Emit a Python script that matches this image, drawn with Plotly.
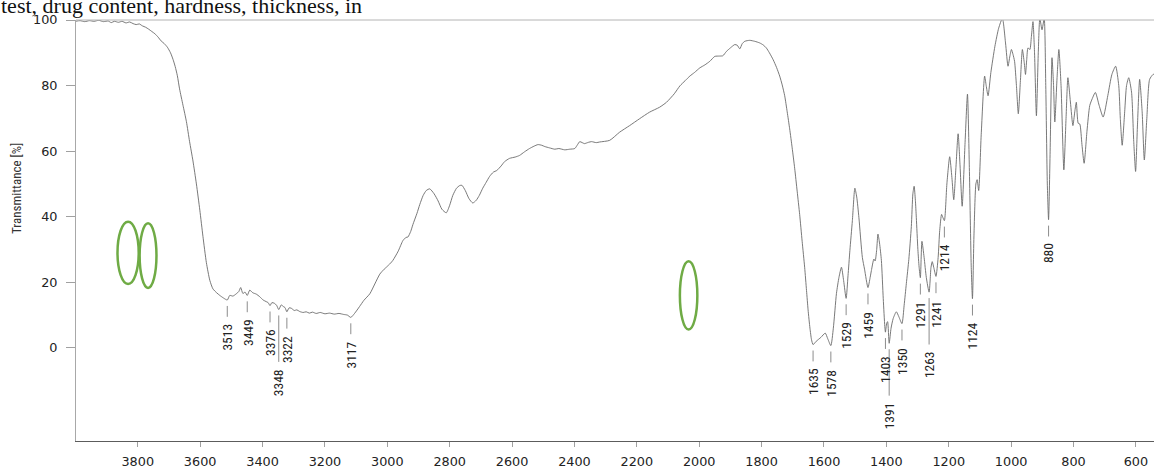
import numpy as np
import plotly.graph_objects as go

# FT-IR spectrum (wavenumber in cm-1, transmittance in %)
wavenumber = [
    4000, 3985, 3970, 3955, 3940, 3925, 3910, 3895, 3885, 3875, 3862, 3850, 3838, 3826,
    3815, 3805, 3795, 3785, 3775, 3765, 3755, 3745, 3735, 3725, 3715, 3705, 3695, 3687,
    3680, 3673, 3666, 3655, 3644, 3634, 3623, 3612, 3601, 3591, 3580, 3569, 3559, 3547,
    3537, 3525, 3513, 3505, 3495, 3484, 3476, 3470, 3463, 3456, 3449, 3441, 3431, 3420,
    3409, 3398, 3388, 3382, 3376, 3370, 3362, 3355, 3348, 3340, 3333, 3328, 3322, 3315,
    3308, 3298, 3290, 3281, 3270, 3260, 3250, 3240, 3228, 3215, 3200, 3185, 3170, 3155,
    3140, 3128, 3117, 3105, 3089, 3075, 3056, 3040, 3024, 3010, 3003, 2990, 2982, 2965,
    2950, 2940, 2934, 2925, 2918, 2905, 2896, 2885, 2875, 2864, 2850, 2837, 2825, 2811,
    2800, 2790, 2778, 2768, 2761, 2750, 2738, 2726, 2715, 2705, 2694, 2683, 2672, 2660,
    2649, 2635, 2624, 2608, 2590, 2576, 2560, 2544, 2530, 2517, 2505, 2495, 2480, 2463,
    2450, 2431, 2415, 2399, 2390, 2383, 2375, 2368, 2355, 2345, 2330, 2319, 2287, 2255,
    2223, 2191, 2159, 2127, 2105, 2080, 2062, 2045, 2030, 2015, 1998, 1982, 1966, 1950,
    1935, 1924, 1913, 1900, 1886, 1878, 1870, 1862, 1854, 1838, 1822, 1806, 1795, 1785,
    1775, 1763, 1752, 1742, 1734, 1726, 1718, 1710, 1702, 1694, 1686, 1678, 1670, 1662,
    1656, 1651, 1645, 1640, 1635, 1625, 1610, 1596, 1588, 1578, 1570, 1560, 1552, 1544,
    1537, 1529, 1523, 1517, 1509, 1501, 1495, 1488, 1477, 1470, 1459, 1452, 1448, 1440,
    1436, 1431, 1427, 1422, 1416, 1410, 1405, 1403, 1399, 1396, 1391, 1385, 1378, 1368,
    1360, 1350, 1343, 1336, 1328, 1320, 1315, 1311, 1307, 1304, 1299, 1295, 1291, 1286,
    1279, 1272, 1263, 1257, 1253, 1248, 1241, 1234, 1229, 1223, 1219, 1214, 1206, 1197,
    1190, 1184, 1177, 1170, 1164, 1157, 1148, 1140, 1134, 1128, 1124, 1119, 1113, 1109,
    1104, 1096, 1085, 1080, 1074, 1065, 1052, 1040, 1028, 1018, 1010, 1004, 999, 994,
    989, 983, 977, 970, 964, 958, 954, 950, 946, 940, 935, 930, 925, 919, 913, 908,
    901, 894, 889, 884, 880, 875, 869, 864, 860, 853, 847, 840, 831, 824, 818, 810,
    802, 796, 791, 785, 780, 773, 766, 757, 748, 740, 730, 718, 705, 690, 677, 665,
    655, 650, 644, 636, 630, 623, 614, 607, 601, 595, 588, 580, 573, 565, 556, 545, 540,
]

transmittance = [
    99.6, 99.8, 99.5, 99.8, 99.6, 99.9, 99.5, 99.7, 99.2, 99.6, 99.3, 99.6, 99.1, 99.4,
    98.9, 98.6, 98.8, 98.2, 97.8, 97.2, 96.5, 95.8, 94.8, 93.6, 92.8, 91.7, 90.0, 88.0,
    85.8, 83.0, 79.0, 74.0, 69.0, 63.0, 57.0, 50.0, 42.0, 34.0, 26.0, 20.6, 18.0, 16.8,
    16.0, 15.2, 14.6, 16.0, 15.8, 16.5, 17.2, 18.4, 16.6, 17.0, 16.0, 17.6, 16.8, 16.4,
    15.6, 14.6, 14.1, 13.8, 12.9, 13.8, 13.6, 13.0, 11.7, 13.1, 12.6, 12.3, 11.0, 12.2,
    12.1, 11.4, 11.6, 11.1, 10.8, 11.0, 10.6, 10.9, 10.5, 10.8, 10.4, 10.6, 10.3, 10.5,
    10.2, 10.0, 9.3, 10.5, 12.6, 14.5, 16.5, 19.5, 22.5, 24.0, 24.6, 25.8, 26.7, 29.5,
    32.7, 33.7, 33.8, 35.5, 37.6, 41.0, 43.7, 46.5, 48.0, 48.5, 47.0, 44.8, 42.3, 41.2,
    43.5, 46.5, 48.7, 49.5, 49.6, 48.0, 45.5, 44.2, 45.0, 46.5, 48.7, 50.5, 52.3, 53.6,
    54.1, 55.5, 56.8, 57.8, 58.2, 58.7, 59.8, 60.8, 61.5, 62.0, 61.8, 61.4, 61.0, 60.6,
    60.8, 60.4, 60.6, 60.8, 62.0, 62.9, 62.6, 62.3, 62.7, 62.9, 62.6, 62.8, 63.3, 65.8,
    67.8, 69.9, 71.9, 73.4, 74.9, 77.5, 79.9, 81.5, 82.9, 84.0, 85.4, 86.3, 87.4, 88.9,
    89.0, 89.1, 90.4, 91.5, 92.5, 92.3, 91.2, 92.8, 93.5, 93.8, 93.5, 93.0, 92.4, 91.5,
    90.0, 87.9, 85.5, 82.9, 80.2, 76.9, 72.0, 66.8, 61.0, 54.8, 47.8, 40.7, 32.5, 24.6,
    17.5, 11.6, 6.0, 2.5, 1.0, 2.0, 3.2, 4.5, 2.8, 0.7, 6.0, 16.6, 21.5, 24.6,
    20.5, 15.1, 22.0, 29.7, 38.8, 48.7, 46.0, 39.7, 27.6, 24.0, 18.4, 21.5, 23.6, 27.1,
    26.5, 30.0, 34.7, 32.0, 26.7, 15.0, 6.5, 4.8, 7.5, 8.0, 1.4, 6.0, 9.0, 11.0,
    9.5, 7.4, 13.0, 19.6, 27.0, 37.0, 47.0, 49.3, 45.0, 39.7, 30.0, 24.6, 21.4, 32.5,
    27.6, 21.5, 17.0, 24.5, 26.3, 24.5, 21.8, 27.6, 35.8, 40.7, 39.8, 38.8, 50.0, 58.3,
    52.0, 45.2, 55.0, 65.3, 56.0, 43.2, 62.0, 77.4, 55.0, 25.0, 15.0, 35.0, 50.0, 51.3,
    48.0, 65.0, 82.9, 80.0, 76.9, 84.0, 92.0, 97.5, 100.5, 93.0, 85.9, 89.0, 91.0, 89.5,
    87.4, 80.0, 71.4, 82.0, 91.0, 87.0, 83.4, 88.0, 91.5, 91.0, 95.0, 99.5, 90.0, 70.8,
    90.0, 100.5, 97.0, 100.5, 80.0, 50.0, 39.1, 60.0, 88.5, 80.0, 68.9, 82.0, 91.0, 80.0,
    54.3, 70.0, 82.4, 75.0, 67.8, 72.0, 74.9, 68.5, 68.3, 62.0, 56.3, 66.0, 73.9, 76.0,
    77.9, 74.0, 70.4, 77.0, 83.4, 85.9, 80.0, 70.0, 61.8, 72.0, 80.0, 82.4, 78.0, 63.0,
    53.8, 68.0, 81.9, 72.0, 57.3, 70.0, 81.9, 83.4, 83.5,
]

# Picked absorption bands (cm-1)
peak_wavenumbers = [3513, 3449, 3376, 3348, 3322, 3117, 1635, 1578, 1529, 1459,
                    1403, 1391, 1350, 1291, 1263, 1241, 1214, 1124, 880]
# Bands whose labels are dropped lower so they do not collide with a neighbour
staggered_peaks = [3348, 1391, 1263]

# Highlighted regions: (wavenumber from, wavenumber to, T low, T high)
highlight_regions = [
    (3865, 3797, 19.5, 38.5),
    (3794, 3740, 18.3, 38.0),
    (2062, 2006, 5.6, 26.4),
]

x_ticks = list(range(3800, 599, -200))
y_ticks = [0, 20, 40, 60, 80, 100]

header_text = "test, drug content, hardness, thickness, in"
y_title = "Transmittance [%]"

# ---- layout geometry -------------------------------------------------------
W, H = 1154, 469
M_L, M_R, M_T, M_B = 76, 0, 20, 23
plot_w = W - M_L - M_R
plot_h = H - M_T - M_B
X_RANGE = [3998, 542]
Y_RANGE = [-28.4, 100]
t_per_px = (Y_RANGE[1] - Y_RANGE[0]) / plot_h

NARROW = "Liberation Sans Narrow, Arial Narrow, Roboto Condensed, sans-serif"
TICKFONT = dict(family="DejaVu Sans, Verdana, sans-serif", size=12.8, color="#222222")

fig = go.Figure()
fig.add_trace(go.Scatter(
    x=wavenumber, y=transmittance, mode="lines",
    line=dict(color="#6a6a6a", width=0.9, shape="spline", smoothing=0.6),
    hoverinfo="x+y", showlegend=False,
))

shapes = []
annotations = []

# peak markers: short stem below each band, value label underneath
wn_asc = np.array(wavenumber[::-1], dtype=float)
t_asc = np.array(transmittance[::-1], dtype=float)
for wn in peak_wavenumbers:
    t_min = float(np.interp(wn, wn_asc, t_asc))
    stem_top = t_min - 6 * t_per_px
    stem_len = 47 if wn in staggered_peaks else 11
    stem_bot = stem_top - stem_len * t_per_px
    shapes.append(dict(type="line", xref="x", yref="y", x0=wn, x1=wn,
                       y0=stem_top, y1=stem_bot,
                       line=dict(color="#8c8c8c", width=1)))
    annotations.append(dict(
        x=wn, y=stem_bot, xref="x", yref="y", text=str(wn), showarrow=False,
        textangle=-90, xanchor="center", yanchor="top", yshift=-5,
        font=dict(family=NARROW, size=13.5, color="#222222"),
    ))

for x0, x1, y0, y1 in highlight_regions:
    shapes.append(dict(type="circle", xref="x", yref="y", x0=x0, x1=x1, y0=y0, y1=y1,
                       line=dict(color="#6fab45", width=2.5)))

# upper frame line
shapes.append(dict(type="line", xref="paper", yref="paper", x0=0, x1=1, y0=1, y1=1,
                   line=dict(color="#b4b4b4", width=1)))

annotations.append(dict(
    x=0, y=0.5986, xref="paper", yref="paper", xshift=-59, text=y_title,
    showarrow=False, textangle=-90, xanchor="center", yanchor="middle",
    font=dict(family=NARROW, size=13, color="#333333"),
))
annotations.append(dict(
    x=0, y=1, xref="paper", yref="paper", xshift=-M_L - 1, yshift=0, text=header_text,
    showarrow=False, xanchor="left", yanchor="bottom",
    font=dict(family="Liberation Serif, Times New Roman, serif", size=22, color="#111111"),
))

fig.update_layout(
    width=W, height=H,
    margin=dict(l=M_L, r=M_R, t=M_T, b=M_B, pad=0),
    paper_bgcolor="white", plot_bgcolor="white",
    shapes=shapes, annotations=annotations,
    xaxis=dict(
        range=X_RANGE, tickmode="array", tickvals=x_ticks,
        ticktext=[str(v) for v in x_ticks],
        showgrid=False, zeroline=False, showline=True,
        linecolor="#5c5c5c", linewidth=1.2,
        ticks="outside", ticklen=5, tickwidth=1, tickcolor="#a0a0a0",
        tickfont=TICKFONT, ticklabelstandoff=4,
    ),
    yaxis=dict(
        range=Y_RANGE, tickmode="array", tickvals=y_ticks,
        ticktext=[str(v) for v in y_ticks],
        showgrid=False, zeroline=False, showline=True,
        linecolor="#a8a8a8", linewidth=1,
        ticks="outside", ticklen=9, tickwidth=1, tickcolor="#a0a0a0",
        tickfont=TICKFONT, ticklabelstandoff=6,
    ),
)

fig.write_html("out.html")
